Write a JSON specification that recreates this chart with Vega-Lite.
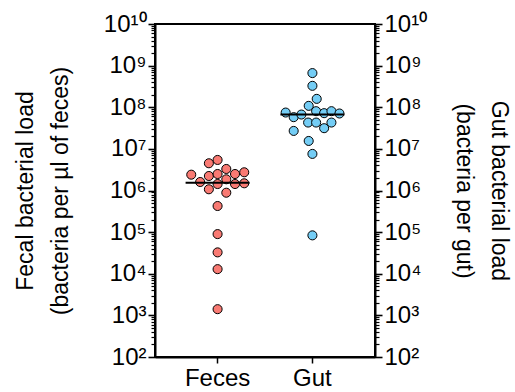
{
  "$schema": "https://vega.github.io/schema/vega-lite/v6.json",
  "width": 220,
  "height": 333,
  "autosize": "none",
  "padding": {"left": 155, "top": 24, "right": 140, "bottom": 35},
  "background": "white",
  "config": {
    "view": {"stroke": "black", "strokeWidth": 2},
    "axis": {
      "labelFont": "Liberation Sans",
      "titleFont": "Liberation Sans",
      "labelFontSize": 24,
      "titleFontSize": 23,
      "titleFontWeight": "normal",
      "labelColor": "black",
      "titleColor": "black",
      "domainColor": "black",
      "domainWidth": 2,
      "tickColor": "black",
      "tickWidth": 1.5,
      "grid": false
    }
  },
  "data": {
    "values": [
      {"g": "Feces", "v": 5.42e6, "j": 0},
      {"g": "Feces", "v": 4.51e6, "j": -8.7},
      {"g": "Feces", "v": 2.40e6, "j": -26.3},
      {"g": "Feces", "v": 1.60e6, "j": -17.4},
      {"g": "Feces", "v": 2.23e6, "j": -8.7},
      {"g": "Feces", "v": 2.49e6, "j": 0},
      {"g": "Feces", "v": 3.29e6, "j": 8.7},
      {"g": "Feces", "v": 2.49e6, "j": 17.4},
      {"g": "Feces", "v": 2.74e6, "j": 26.6},
      {"g": "Feces", "v": 1.07e6, "j": -8.7},
      {"g": "Feces", "v": 1.43e6, "j": 0},
      {"g": "Feces", "v": 1.86e6, "j": 8.7},
      {"g": "Feces", "v": 8.85e5, "j": 8.7},
      {"g": "Feces", "v": 1.43e6, "j": 17.4},
      {"g": "Feces", "v": 1.49e6, "j": 26.6},
      {"g": "Feces", "v": 4.24e5, "j": 0},
      {"g": "Feces", "v": 8.97e4, "j": 0},
      {"g": "Feces", "v": 3.26e4, "j": 0},
      {"g": "Feces", "v": 1.29e4, "j": 0},
      {"g": "Feces", "v": 1.41e3, "j": 0},
      {"g": "Gut", "v": 6.62e8, "j": 0},
      {"g": "Gut", "v": 3.27e8, "j": 0},
      {"g": "Gut", "v": 1.59e8, "j": 4.3},
      {"g": "Gut", "v": 1.08e8, "j": -3.7},
      {"g": "Gut", "v": 7.46e7, "j": -26.7},
      {"g": "Gut", "v": 5.78e7, "j": -18.7},
      {"g": "Gut", "v": 6.68e7, "j": -11},
      {"g": "Gut", "v": 8.05e7, "j": 3.7},
      {"g": "Gut", "v": 7.21e7, "j": 11.7},
      {"g": "Gut", "v": 8.05e7, "j": 19},
      {"g": "Gut", "v": 7.08e7, "j": 27},
      {"g": "Gut", "v": 2.70e7, "j": -18.7},
      {"g": "Gut", "v": 4.29e7, "j": -4.3},
      {"g": "Gut", "v": 4.29e7, "j": 3.7},
      {"g": "Gut", "v": 3.14e7, "j": 11.7},
      {"g": "Gut", "v": 4.29e7, "j": 19},
      {"g": "Gut", "v": 1.55e7, "j": -3.7},
      {"g": "Gut", "v": 7.57e6, "j": 0},
      {"g": "Gut", "v": 8.36e4, "j": 0}
    ]
  },
  "encoding": {
    "x": {
      "field": "g",
      "type": "nominal",
      "sort": ["Feces", "Gut"],
      "scale": {"type": "band", "paddingInner": 0, "paddingOuter": 0.16},
      "axis": {
        "title": null,
        "labelAngle": 0,
        "tickSize": 6,
        "labelPadding": 3,
        "labelFontSize": 24
      }
    }
  },
  "layer": [
    {
      "mark": {"type": "point", "shape": "circle", "filled": true, "size": 82, "stroke": "black", "strokeWidth": 1, "opacity": 1},
      "encoding": {
        "xOffset": {"field": "j", "type": "quantitative", "scale": {"domain": [-47.35, 47.35], "nice": false, "zero": false}},
        "y": {
          "field": "v",
          "type": "quantitative",
          "scale": {"type": "log", "domain": [100, 10000000000], "nice": false},
          "axis": {
            "orient": "left",
            "title": ["Fecal bacterial load", "(bacteria per µl of feces)"],
            "titleX": -130,
            "titleY": 166.5,
            "titleAngle": -90,
            "titleAlign": "center",
            "titleBaseline": "middle",
            "titleLineHeight": 35,
            "labelPadding": 2,
            "labelOverlap": false,
            "labelBound": false,
            "labelFlush": false,
            "values": [100, 200, 300, 400, 500, 600, 700, 800, 900, 1000, 2000, 3000, 4000, 5000, 6000, 7000, 8000, 9000, 10000, 20000, 30000, 40000, 50000, 60000, 70000, 80000, 90000, 100000, 200000, 300000, 400000, 500000, 600000, 700000, 800000, 900000, 1000000, 2000000, 3000000, 4000000, 5000000, 6000000, 7000000, 8000000, 9000000, 10000000, 20000000, 30000000, 40000000, 50000000, 60000000, 70000000, 80000000, 90000000, 100000000, 200000000, 300000000, 400000000, 500000000, 600000000, 700000000, 800000000, 900000000, 1000000000, 2000000000, 3000000000, 4000000000, 5000000000, 6000000000, 7000000000, 8000000000, 9000000000, 10000000000],
            "labelExpr": "abs(datum.value/pow(10, round(log(datum.value)/LN10)) - 1) < 0.001 ? '10' + (round(log(datum.value)/LN10) == 10 ? '¹⁰' : substring('⁰¹²³⁴⁵⁶⁷⁸⁹', round(log(datum.value)/LN10), round(log(datum.value)/LN10) + 1)) : ''",
            "tickSize": {"condition": {"test": "abs(datum.value/pow(10, round(log(datum.value)/LN10)) - 1) < 0.001", "value": 7}, "value": 4},
            "tickWidth": {"condition": {"test": "abs(datum.value/pow(10, round(log(datum.value)/LN10)) - 1) < 0.001", "value": 1.6}, "value": 1.2}
          }
        },
        "fill": {
          "field": "g",
          "type": "nominal",
          "scale": {"domain": ["Feces", "Gut"], "range": ["#F97A73", "#74CDF5"]},
          "legend": null
        }
      }
    },
    {
      "transform": [{"aggregate": [{"op": "median", "field": "v", "as": "med"}], "groupby": ["g"]}],
      "mark": {"type": "tick", "color": "black", "size": 64, "thickness": 2, "opacity": 1},
      "encoding": {
        "y": {
          "field": "med",
          "type": "quantitative",
          "axis": {
            "orient": "right",
            "title": ["Gut bacterial load", "(bacteria per gut)"],
            "titleX": 123,
            "titleY": 166.5,
            "titleAngle": 90,
            "titleAlign": "center",
            "titleBaseline": "middle",
            "titleLineHeight": 35,
            "labelPadding": 2,
            "labelOverlap": false,
            "labelBound": false,
            "labelFlush": false,
            "values": [100, 200, 300, 400, 500, 600, 700, 800, 900, 1000, 2000, 3000, 4000, 5000, 6000, 7000, 8000, 9000, 10000, 20000, 30000, 40000, 50000, 60000, 70000, 80000, 90000, 100000, 200000, 300000, 400000, 500000, 600000, 700000, 800000, 900000, 1000000, 2000000, 3000000, 4000000, 5000000, 6000000, 7000000, 8000000, 9000000, 10000000, 20000000, 30000000, 40000000, 50000000, 60000000, 70000000, 80000000, 90000000, 100000000, 200000000, 300000000, 400000000, 500000000, 600000000, 700000000, 800000000, 900000000, 1000000000, 2000000000, 3000000000, 4000000000, 5000000000, 6000000000, 7000000000, 8000000000, 9000000000, 10000000000],
            "labelExpr": "abs(datum.value/pow(10, round(log(datum.value)/LN10)) - 1) < 0.001 ? '10' + (round(log(datum.value)/LN10) == 10 ? '¹⁰' : substring('⁰¹²³⁴⁵⁶⁷⁸⁹', round(log(datum.value)/LN10), round(log(datum.value)/LN10) + 1)) : ''",
            "tickSize": {"condition": {"test": "abs(datum.value/pow(10, round(log(datum.value)/LN10)) - 1) < 0.001", "value": 7}, "value": 4},
            "tickWidth": {"condition": {"test": "abs(datum.value/pow(10, round(log(datum.value)/LN10)) - 1) < 0.001", "value": 1.6}, "value": 1.2}
          }
        }
      }
    }
  ],
  "resolve": {"axis": {"y": "independent"}, "scale": {"y": "shared"}}
}
